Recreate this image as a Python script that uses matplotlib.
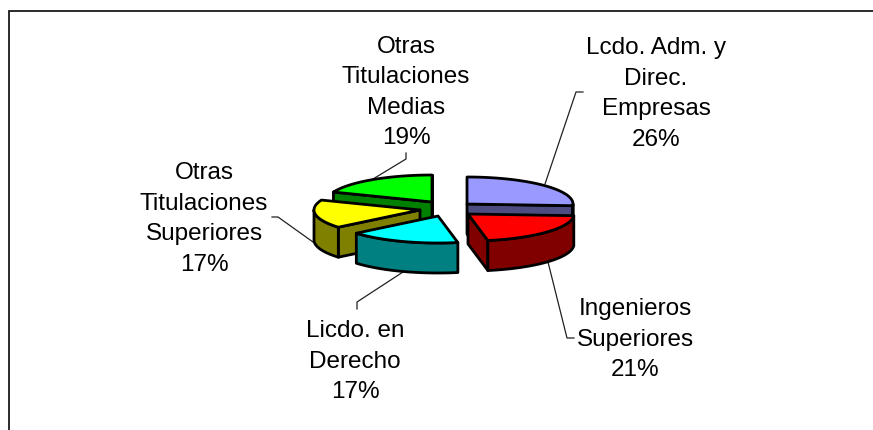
import numpy as np
import matplotlib
matplotlib.use("Agg")
import matplotlib.pyplot as plt
from matplotlib.patches import Polygon

categories = ["Lcdo. Adm. y\nDirec.\nEmpresas", "Ingenieros\nSuperiores", "Licdo. en\nDerecho",
              "Otras\nTitulaciones\nSuperiores", "Otras\nTitulaciones\nMedias"]
shares = [26, 21, 17, 17, 19]

top_colors = ["#9999FF", "#FF0000", "#00FFFF", "#FFFF00", "#00FF00"]
side_colors = ["#4C4C80", "#800000", "#008080", "#808000", "#008000"]
centers = [(467, 205), (468, 215), (438, 217), (420, 211), (432, 203)]
label_pos = [(656, 94), (635, 340), (355, 362), (204, 219), (406, 92.5)]
leaders = [[(545, 185), (576, 93), (583, 93)],
           [(548, 263), (567, 339), (574, 339)],
           [(403, 273), (357, 303), (357, 310)],
           [(313, 243), (278, 218), (272, 218)],
           [(373, 180), (406, 160), (406, 154)]]
draw_order = [4, 0, 3, 1, 2]
RX, RY, DEPTH = 106, 27, 30

fig = plt.figure(figsize=(8.73, 4.31), dpi=100)
ax = fig.add_axes([0, 0, 1, 1])
ax.set_xlim(0, 873)
ax.set_ylim(431, 0)
ax.axis("off")

ax.plot([8.5, 8.5, 873], [431, 12, 12], color="#1a1a1a", lw=1.3, solid_joinstyle="miter", zorder=0)

total = sum(shares)
edges = np.cumsum([0] + shares) / total * 2 * np.pi


def pt(c, a):
    return np.array([c[0] + RX * np.sin(a), c[1] - RY * np.cos(a)])


for seg in leaders:
    xs, ys = zip(*seg)
    ax.plot(xs, ys, color="#222222", lw=0.9, zorder=1)

style = dict(edgecolor="black", lw=2.0, joinstyle="round")
z = 2
for i in draw_order:
    a0, a1 = edges[i], edges[i + 1]
    c = np.array(centers[i], dtype=float)
    down = np.array([0, DEPTH])
    walls = []
    if np.sin(a0) <= 1e-6:
        walls.append(np.array([c, pt(c, a0), pt(c, a0) + down, c + down]))
    if np.sin(a1) >= -1e-6:
        walls.append(np.array([c, pt(c, a1), pt(c, a1) + down, c + down]))
    lo, hi = max(a0, np.pi / 2), min(a1, 3 * np.pi / 2)
    if lo < hi:
        arc = np.array([pt(c, t) for t in np.linspace(lo, hi, 60)])
        walls.append(np.vstack([arc, arc[::-1] + down]))
    for w in walls:
        ax.add_patch(Polygon(w, closed=True, facecolor=side_colors[i], zorder=z, **style))
        z += 1
    arc = np.array([pt(c, t) for t in np.linspace(a0, a1, 80)])
    ax.add_patch(Polygon(np.vstack([c, arc]), closed=True, facecolor=top_colors[i], zorder=z, **style))
    z += 1

for name, share, (x, y) in zip(categories, shares, label_pos):
    ax.text(x, y, f"{name}\n{share}%", ha="center", va="center", ma="center",
            family="Liberation Sans", fontsize=17.5, linespacing=1.5, color="black", zorder=50)

fig.savefig("out.png", dpi=100)
